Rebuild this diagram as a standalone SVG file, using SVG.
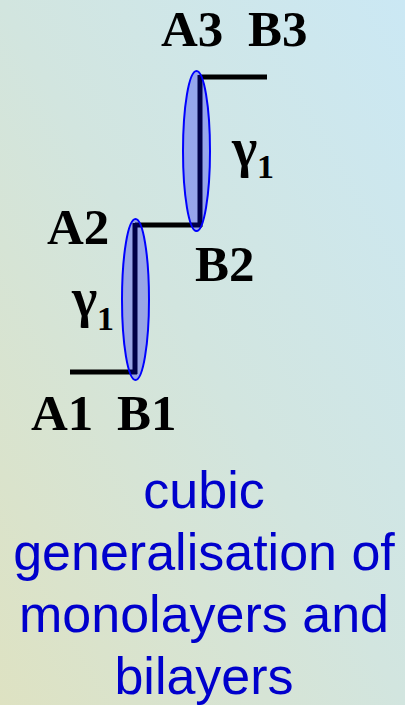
<svg xmlns="http://www.w3.org/2000/svg" width="405" height="705" viewBox="0 0 405 705">
<defs>
<linearGradient id="bg" x1="0" y1="1" x2="1" y2="0">
<stop offset="0" stop-color="#dee2c2"/>
<stop offset="0.5" stop-color="#d2e5df"/>
<stop offset="1" stop-color="#cbe8f4"/>
</linearGradient>
<style>
.bar{stroke:#000;stroke-width:5;fill:none}
.ell{fill:#0000ff;fill-opacity:0.28;stroke:#0000ff;stroke-width:2}
.lab{font-family:"Liberation Serif","Times New Roman",serif;font-weight:bold;font-size:51px;fill:#000}
.gam{font-family:"Liberation Serif","Times New Roman",serif;font-weight:bold;font-size:54px;fill:#000}
.sub{font-family:"Liberation Serif","Times New Roman",serif;font-weight:bold;font-size:34px;fill:#000}
.cap{font-family:"Liberation Sans",Arial,sans-serif;font-size:52px;fill:#0000cc;text-anchor:middle}
</style>
</defs>
<rect width="405" height="705" fill="url(#bg)"/>
<g id="connectors">
<line class="bar" x1="70" y1="372" x2="137" y2="372"/>
<line class="bar" x1="135" y1="225" x2="202" y2="225"/>
<line class="bar" x1="200" y1="77" x2="267" y2="77"/>
</g>
<g id="layer1">
<line class="bar" x1="135" y1="223" x2="135" y2="374"/>
<ellipse class="ell" cx="135.5" cy="299.5" rx="13.5" ry="80.5"/>
</g>
<g id="layer2">
<line class="bar" x1="200" y1="75" x2="200" y2="227"/>
<ellipse class="ell" cx="196.5" cy="151" rx="13.5" ry="80"/>
</g>
<g id="labels">
<text class="lab" x="161" y="46">A3</text>
<text class="lab" x="248" y="46">B3</text>
<text class="lab" x="47" y="244">A2</text>
<text class="lab" x="195" y="281">B2</text>
<text class="lab" x="31" y="430">A1</text>
<text class="lab" x="117" y="430">B1</text>
<text class="gam" x="232" y="166">γ</text>
<text class="sub" x="257" y="178">1</text>
<text class="gam" x="72" y="316">γ</text>
<text class="sub" x="97" y="330">1</text>
</g>
<g id="caption">
<text class="cap" x="204" y="508">cubic</text>
<text class="cap" x="204" y="570">generalisation of</text>
<text class="cap" x="204" y="632">monolayers and</text>
<text class="cap" x="204" y="694">bilayers</text>
</g>
</svg>
